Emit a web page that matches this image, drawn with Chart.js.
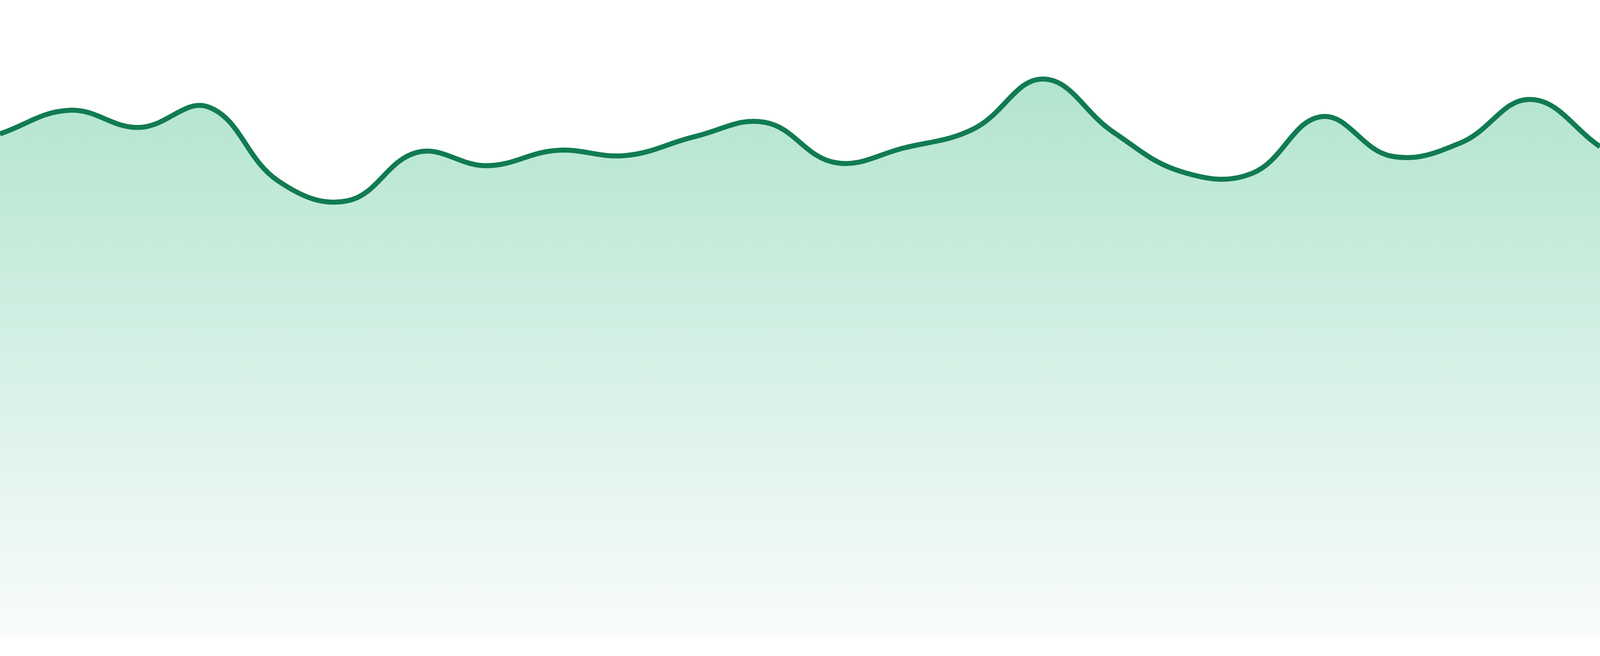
<!DOCTYPE html>
<html>
<head>
<meta charset="utf-8">
<script src="https://cdn.jsdelivr.net/npm/chart.js@4/dist/chart.umd.min.js"></script>
<style>
  html, body { margin: 0; padding: 0; background: #ffffff; overflow: hidden; }
  #wrap { width: 100vw; height: 100vh; position: relative; }
</style>
</head>
<body>
<div id="wrap"><canvas id="trendChart"></canvas></div>
<script>
// hourly readings, one per point
const hours = [
  '00:00', '01:00', '02:00', '03:00', '04:00', '05:00', '06:00', '07:00',
  '08:00', '09:00', '10:00', '11:00', '12:00', '13:00', '14:00', '15:00',
  '16:00', '17:00', '18:00', '19:00', '20:00', '21:00', '22:00', '23:00'
];
const values = [
  79.0, 82.7, 80.0, 83.2, 71.6, 68.5, 76.1, 74.0,
  76.4, 75.6, 78.6, 80.8, 74.5, 76.8, 79.8, 87.6,
  79.3, 73.0, 72.8, 81.7, 75.5, 77.6, 84.4, 77.0
];
const yMin = 0;
const yMax = 100;

const lineColor = '#117b52';

// reference frame is 4800 x 1680, size things against the real viewport
const kx = window.innerWidth / 4800;
const ky = window.innerHeight / 1680;

function fillGradient(context) {
  const area = context.chart.chartArea;
  if (!area) return 'rgb(178, 228, 207)';
  const g = context.chart.ctx.createLinearGradient(0, area.top, 0, area.bottom);
  g.addColorStop(0, 'rgb(168, 225, 201)');
  g.addColorStop(1, 'rgb(249, 252, 251)');
  return g;
}

const ctx = document.getElementById('trendChart').getContext('2d');
new Chart(ctx, {
  type: 'line',
  data: {
    labels: hours,
    datasets: [{
      data: values,
      borderColor: lineColor,
      borderWidth: 15 * kx,
      backgroundColor: fillGradient,
      fill: 'start',
      tension: 0.4,
      pointRadius: 0,
      pointHoverRadius: 0
    }]
  },
  options: {
    responsive: true,
    maintainAspectRatio: false,
    animation: false,
    layout: { padding: { top: 0, left: 0, right: 0, bottom: 48 * ky } },
    plugins: {
      legend: { display: false },
      tooltip: { enabled: false }
    },
    scales: {
      x: { display: false },
      y: { display: false, min: yMin, max: yMax }
    }
  }
});
</script>
</body>
</html>
